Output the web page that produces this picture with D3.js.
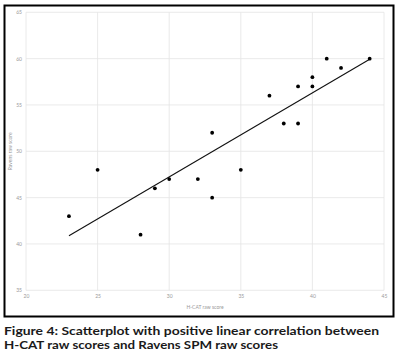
<!DOCTYPE html>
<html>
<head>
<meta charset="utf-8">
<script src="https://cdn.jsdelivr.net/npm/d3@7"></script>
<style>
  body { margin: 0; background: #fff; }
  svg { display: block; }
</style>
</head>
<body>
<div id="chart"></div>
<script>
// H-CAT raw score vs Ravens raw score, one entry per participant
var hcat = [23, 25, 28, 29, 30, 32, 33, 33, 35, 37, 38, 39, 39, 40, 40, 41, 42, 44]
var ravens = [43, 48, 41, 46, 47, 47, 45, 52, 48, 56, 53, 53, 57, 57, 58, 60, 59, 60]
var xTicks = [20, 25, 30, 35, 40, 45]
var yTicks = [35, 40, 45, 50, 55, 60, 65]
var captionLines = [
  'Figure 4: Scatterplot with positive linear correlation between',
  'H-CAT raw scores and Ravens SPM raw scores'
]
var captionWidths = [375, 274]

var width = 397
var height = 362
var plot = {left: 26, right: 384, top: 12.3, bottom: 290.3}

var svg = d3.select('#chart')
  .append('svg')
  .attr('width', width)
  .attr('height', height)

// outer frame round the chart area
svg.append('rect')
  .attr('x', 4.5)
  .attr('y', 5.5)
  .attr('width', 389)
  .attr('height', 311)
  .attr('fill', 'none')
  .attr('stroke', '#000')
  .attr('stroke-width', 2)

var x = d3.scaleLinear().domain([20, 45]).range([plot.left, plot.right])
var y = d3.scaleLinear().domain([35, 65]).range([plot.bottom, plot.top])

// gridlines
svg.append('g')
  .selectAll('line')
  .data(xTicks)
  .enter()
  .append('line')
  .attr('x1', (d) => { return x(d) })
  .attr('x2', (d) => { return x(d) })
  .attr('y1', plot.top)
  .attr('y2', plot.bottom)
  .attr('stroke', '#e4e4e4')
  .attr('stroke-width', 0.8)

svg.append('g')
  .selectAll('line')
  .data(yTicks)
  .enter()
  .append('line')
  .attr('x1', plot.left)
  .attr('x2', plot.right)
  .attr('y1', (d) => { return y(d) })
  .attr('y2', (d) => { return y(d) })
  .attr('stroke', '#e4e4e4')
  .attr('stroke-width', 0.8)

// axes with labels only
var xAxis = svg.append('g')
  .attr('transform', 'translate(0,' + (plot.bottom + 4) + ')')
  .call(d3.axisBottom(x).tickValues(xTicks).tickSize(0).tickPadding(0))
var yAxis = svg.append('g')
  .attr('transform', 'translate(' + (plot.left - 4) + ',0)')
  .call(d3.axisLeft(y).tickValues(yTicks).tickSize(0).tickPadding(0))

;[xAxis, yAxis].forEach((a) => {
  a.select('.domain').remove()
  a.selectAll('text')
    .attr('fill', '#9a9a9a')
    .style('font-family', 'Lato, sans-serif')
    .style('font-size', '5px')
})
yAxis.selectAll('text').attr('dy', '0.32em')

svg.append('text')
  .attr('x', (plot.left + plot.right) / 2)
  .attr('y', 309)
  .attr('text-anchor', 'middle')
  .attr('fill', '#9a9a9a')
  .style('font-family', 'Lato, sans-serif')
  .style('font-size', '5px')
  .text('H-CAT raw score')

svg.append('text')
  .attr('transform', 'translate(11.5,' + ((plot.top + plot.bottom) / 2) + ') rotate(-90)')
  .attr('text-anchor', 'middle')
  .attr('fill', '#9a9a9a')
  .style('font-family', 'Lato, sans-serif')
  .style('font-size', '5px')
  .text('Ravens raw score')

// least squares trend line
var mx = d3.mean(hcat)
var my = d3.mean(ravens)
var sxy = d3.sum(hcat, (d, i) => { return (d - mx) * (ravens[i] - my) })
var sxx = d3.sum(hcat, (d) => { return (d - mx) * (d - mx) })
var slope = sxy / sxx
var icpt = my - slope * mx
var xExt = d3.extent(hcat)

svg.append('line')
  .attr('x1', x(xExt[0]))
  .attr('y1', y(icpt + slope * xExt[0]))
  .attr('x2', x(xExt[1]))
  .attr('y2', y(icpt + slope * xExt[1]))
  .attr('stroke', '#111')
  .attr('stroke-width', 1.1)

svg.append('g')
  .selectAll('circle')
  .data(hcat)
  .enter()
  .append('circle')
  .attr('cx', (d) => { return x(d) })
  .attr('cy', (d, i) => { return y(ravens[i]) })
  .attr('r', 1.9)
  .attr('fill', '#000')

// caption under the frame
svg.append('g')
  .selectAll('text')
  .data(captionLines)
  .enter()
  .append('text')
  .attr('x', 4)
  .attr('y', (d, i) => { return 335 + i * 13.5 })
  .attr('fill', '#1a1a1a')
  .attr('textLength', (d, i) => { return captionWidths[i] })
  .attr('lengthAdjust', 'spacingAndGlyphs')
  .style('font-family', 'Lato, sans-serif')
  .style('font-weight', 'bold')
  .style('font-size', '12px')
  .text((d) => { return d })
</script>
</body>
</html>
